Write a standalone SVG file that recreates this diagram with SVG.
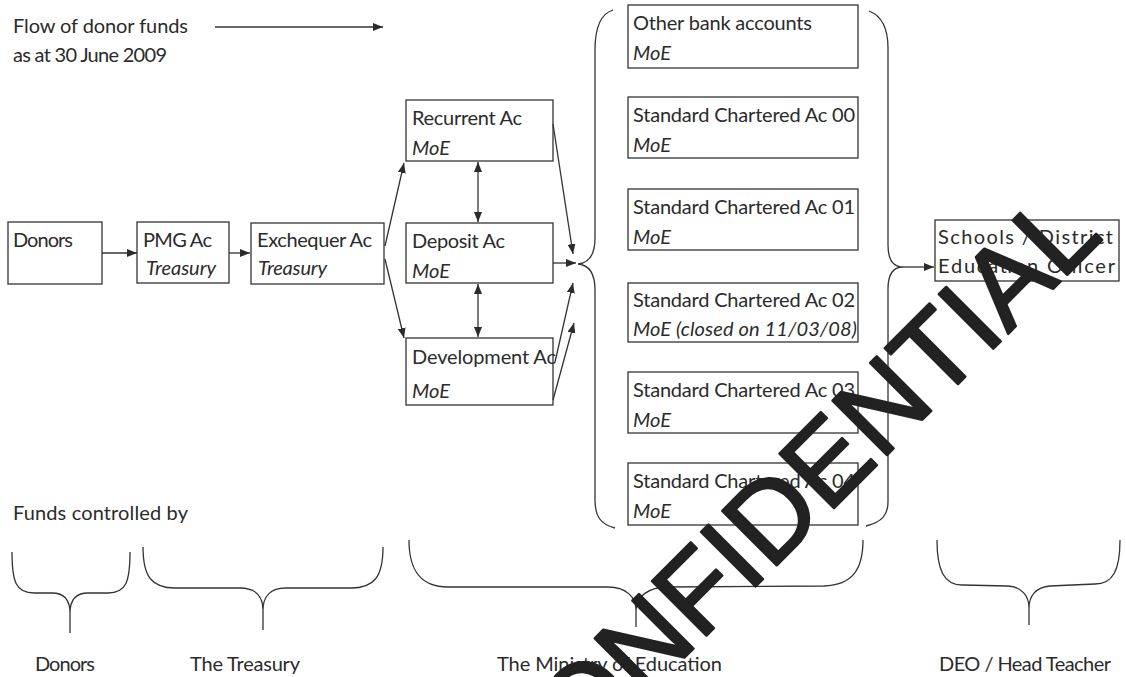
<svg xmlns="http://www.w3.org/2000/svg" width="1126" height="677" viewBox="0 0 1126 677">
<defs>
<style>
.t{font-family:"Lato","Liberation Sans",sans-serif;font-size:20px;fill:#2b2b2b}
.i{font-style:italic}
.b{fill:#fff;stroke:#333;stroke-width:1.3}
.c{fill:none;stroke:#333;stroke-width:1.3}
.a{marker-end:url(#ah)}
.d{marker-start:url(#ah);marker-end:url(#ah)}
.wm{font-family:"Liberation Sans",Arial,sans-serif;font-size:112px;fill:#222;stroke:#222;stroke-width:2.5;stroke-linejoin:round}
</style>
<marker id="ah" viewBox="0 0 10 8" refX="10" refY="4" markerWidth="10" markerHeight="8" markerUnits="userSpaceOnUse" orient="auto-start-reverse">
<path d="M0,0 L10,4 L0,8 z" fill="#2b2b2b"/>
</marker>
</defs>
<rect width="1126" height="677" fill="#fff"/>

<g id="title">
<text class="t" x="13" y="33" textLength="175">Flow of donor funds</text>
<text class="t" x="13" y="62" textLength="154">as at 30 June 2009</text>
<line class="c a" x1="215" y1="27" x2="383" y2="27"/>
</g>

<g id="donors"><rect class="b" x="8" y="222" width="94" height="62"/><text class="t" x="13" y="247" textLength="60">Donors</text></g>
<g id="pmg"><rect class="b" x="137" y="222" width="92" height="61"/><text class="t" x="143" y="247" textLength="69">PMG Ac</text><text class="t i" x="146" y="275" textLength="70">Treasury</text></g>
<g id="exchequer"><rect class="b" x="251" y="223" width="133" height="61"/><text class="t" x="257" y="247" textLength="115">Exchequer Ac</text><text class="t i" x="258" y="275" textLength="69">Treasury</text></g>

<g id="recurrent"><rect class="b" x="406" y="100" width="147" height="61"/><text class="t" x="412" y="125" textLength="110">Recurrent Ac</text><text class="t i" x="412" y="155" textLength="38">MoE</text></g>
<g id="deposit"><rect class="b" x="406" y="223" width="147" height="60"/><text class="t" x="412" y="248" textLength="93">Deposit Ac</text><text class="t i" x="412" y="278" textLength="38">MoE</text></g>
<g id="development"><rect class="b" x="406" y="338" width="147" height="67"/><text class="t" x="412" y="364" textLength="144">Development Ac</text><text class="t i" x="412" y="398" textLength="38">MoE</text></g>

<g id="other"><rect class="b" x="628" y="5" width="230" height="63"/><text class="t" x="633" y="30" textLength="179">Other bank accounts</text><text class="t i" x="633" y="60" textLength="38">MoE</text></g>
<g id="sc00"><rect class="b" x="628" y="97" width="230" height="61"/><text class="t" x="633" y="122" textLength="222">Standard Chartered Ac 00</text><text class="t i" x="633" y="152" textLength="38">MoE</text></g>
<g id="sc01"><rect class="b" x="628" y="189" width="230" height="61"/><text class="t" x="633" y="214" textLength="222">Standard Chartered Ac 01</text><text class="t i" x="633" y="244" textLength="38">MoE</text></g>
<g id="sc02"><rect class="b" x="628" y="283" width="230" height="59"/><text class="t" x="633" y="307" textLength="222">Standard Chartered Ac 02</text><text class="t i" x="633" y="336" textLength="224">MoE (closed on 11/03/08)</text></g>
<g id="sc03"><rect class="b" x="628" y="372" width="230" height="61"/><text class="t" x="633" y="397" textLength="222">Standard Chartered Ac 03</text><text class="t i" x="633" y="427" textLength="38">MoE</text></g>
<g id="sc04"><rect class="b" x="628" y="463" width="230" height="62"/><text class="t" x="633" y="488" textLength="222">Standard Chartered Ac 04</text><text class="t i" x="633" y="518" textLength="38">MoE</text></g>

<g id="schools"><rect class="b" x="935" y="220" width="184" height="61"/><text class="t" x="938" y="244" textLength="175">Schools / District</text><text class="t" x="938" y="273" textLength="177">Education Officer</text></g>

<g id="connectors">
<line class="c a" x1="102" y1="253" x2="137" y2="253"/>
<line class="c a" x1="229" y1="253" x2="250" y2="253"/>
<line class="c a" x1="385" y1="246" x2="404" y2="163"/>
<line class="c a" x1="385" y1="259" x2="404" y2="338"/>
<line class="c d" x1="478" y1="162" x2="478" y2="222"/>
<line class="c d" x1="478" y1="284" x2="478" y2="337"/>
<line class="c a" x1="553" y1="124" x2="573" y2="254"/>
<line class="c a" x1="553" y1="263" x2="576" y2="263"/>
<line class="c a" x1="555" y1="362" x2="573" y2="283"/>
<line class="c a" x1="553" y1="400" x2="574" y2="323"/>
<line class="c a" x1="903" y1="267" x2="934" y2="267"/>
<path class="c" d="M613,10 C600,14 595,28 595,50 L595,238 C595,255 589,263 578,264 C589,265 595,273 595,290 L595,500 C595,516 600,524 615,528"/>
<path class="c" d="M869,11 C882,16 888,28 888,48 L888,245 C888,260 893,267 903,267 C893,267 888,274 888,289 L888,502 C888,515 882,522 866,526"/>
</g>

<g id="controlled">
<text class="t" x="13" y="520" textLength="175">Funds controlled by</text>
<path class="c" d="M12,552 C12,582 16,593 34,593 L52,593 C64,593 70,600 70,613 L70,633 M130,552 C130,582 126,593 108,593 L88,593 C76,593 70,600 70,613"/>
<path class="c" d="M143,547 C143,577 152,588 175,588 L240,588 C256,588 263,597 263,610 L263,630 M383,547 C383,577 374,588 351,588 L286,588 C270,588 263,597 263,610"/>
<path class="c" d="M409,540 C409,570 420,587 448,587 L608,587 C626,587 636,597 636,610 L636,627 M863,540 C863,570 852,585 824,586 L668,587 C648,587 636,597 636,610"/>
<path class="c" d="M937,540 C937,570 944,585 962,585 L1008,586 C1022,587 1029,596 1029,608 L1029,625 M1120,540 C1120,570 1113,584 1095,584 L1050,586 C1036,587 1029,596 1029,608"/>
<text class="t" x="35" y="671" textLength="60">Donors</text>
<text class="t" x="190" y="671" textLength="110">The Treasury</text>
<text class="t" x="497" y="671" textLength="225">The Ministry of Education</text>
<text class="t" x="939" y="671" textLength="172">DEO / Head Teacher</text>
</g>

<g id="watermark">
<text class="wm" transform="translate(524,818) rotate(-45)">CONFIDENTIAL</text>
</g>
</svg>
